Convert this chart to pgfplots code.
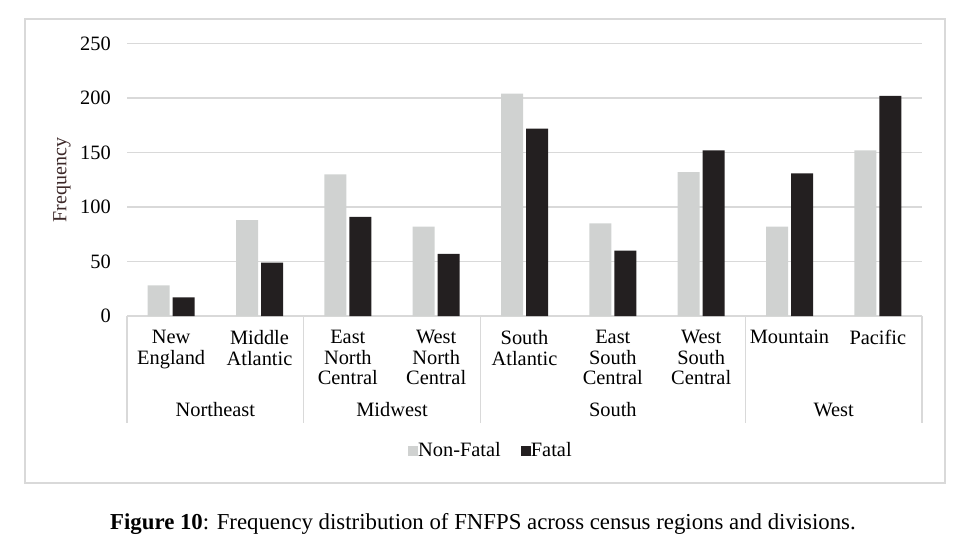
\documentclass[border=0pt]{standalone}
\usepackage{pgfplots}
\pgfplotsset{compat=1.18}
\usepackage{fontspec}
\setmainfont{Liberation Serif}
\definecolor{nonfatal}{HTML}{D0D2D1}
\definecolor{fatal}{HTML}{231F20}
\definecolor{gridc}{HTML}{D9D9D9}
\begin{document}
\begin{tikzpicture}
\path[use as bounding box] (0,0) rectangle (484pt,276pt);
\draw[gridc, line width=0.8pt] (12.5pt,34.5pt) rectangle (472.5pt,266.5pt);
\begin{axis}[
  at={(63.5pt,118pt)}, anchor=south west,
  scale only axis, width=397.5pt, height=136.2pt,
  xmin=-0.5, xmax=8.5, ymin=0, ymax=250,
  ytick={0,50,...,250},
  xtick=\empty,
  major tick length=0pt,
  axis line style={draw=none},
  ymajorgrids, grid style={gridc, line width=0.75pt},
  ybar=1.5pt, bar width=11pt,
  font=\fontsize{10.2}{10.3}\selectfont,
  /pgf/number format/assume math mode=true,
  yticklabel style={anchor=east, xshift=-4.6pt, text=black},
  clip=false,
  legend style={at={(0.459,-0.496)}, anchor=center, draw=none, fill=none,
    legend columns=2, font=\fontsize{10.2}{11}\selectfont,
    /tikz/every even column/.append style={column sep=8pt},
    /tikz/every odd column/.append style={column sep=-2pt},
    legend cell align=left},
  legend image code/.code={\fill[#1] (0pt,-2.6pt) rectangle (5pt,2.6pt);},
]
\addplot[fill=nonfatal, draw=none] coordinates {(0,28) (1,88) (2,130) (3,82) (4,204) (5,85) (6,132) (7,82) (8,152)};
\addplot[fill=fatal, draw=none] coordinates {(0,17) (1,49) (2,91) (3,57) (4,172) (5,60) (6,152) (7,131) (8,202)};
\legend{Non-Fatal, Fatal}
% separators
\pgfplotsinvokeforeach{-0.5,1.5,3.5,6.5,8.5}{
  \draw[gridc, line width=0.6pt] (axis cs:#1,0) -- ++(0pt,-53.5pt);
}
% division labels
\tikzset{divl/.style={anchor=north, align=center, inner sep=0pt, font=\fontsize{10.2}{10.3}\selectfont}}
\node[divl] at ([yshift=-7pt]axis cs:0,0) {New\\England};
\node[divl] at ([yshift=-7pt]axis cs:1,0) {Middle\\Atlantic};
\node[divl] at ([yshift=-7pt]axis cs:2,0) {East\\North\\Central};
\node[divl] at ([yshift=-7pt]axis cs:3,0) {West\\North\\Central};
\node[divl] at ([yshift=-7pt]axis cs:4,0) {South\\Atlantic};
\node[divl] at ([yshift=-7pt]axis cs:5,0) {East\\South\\Central};
\node[divl] at ([yshift=-7pt]axis cs:6,0) {West\\South\\Central};
\node[divl] at ([yshift=-7pt]axis cs:7,0) {Mountain};
\node[divl] at ([yshift=-7pt]axis cs:8,0) {Pacific};
% region labels
\tikzset{regl/.style={anchor=center, inner sep=0pt, font=\fontsize{10.2}{10.3}\selectfont}}
\node[regl] at ([yshift=-47pt]axis cs:0.5,0) {Northeast};
\node[regl] at ([yshift=-47pt]axis cs:2.5,0) {Midwest};
\node[regl] at ([yshift=-47pt]axis cs:5,0) {South};
\node[regl] at ([yshift=-47pt]axis cs:7.5,0) {West};
\end{axis}
\node[rotate=90, inner sep=0pt, font=\fontsize{10}{11}\selectfont, text={rgb,255:red,60;green,40;blue,40}] at (31pt,186pt) {Frequency};
\node[inner sep=0pt, font=\fontsize{11.4}{12}\selectfont] at (241.5pt,14pt) {\textbf{Figure 10}: Frequency distribution of FNFPS across census regions and divisions.};
\end{tikzpicture}
\end{document}
